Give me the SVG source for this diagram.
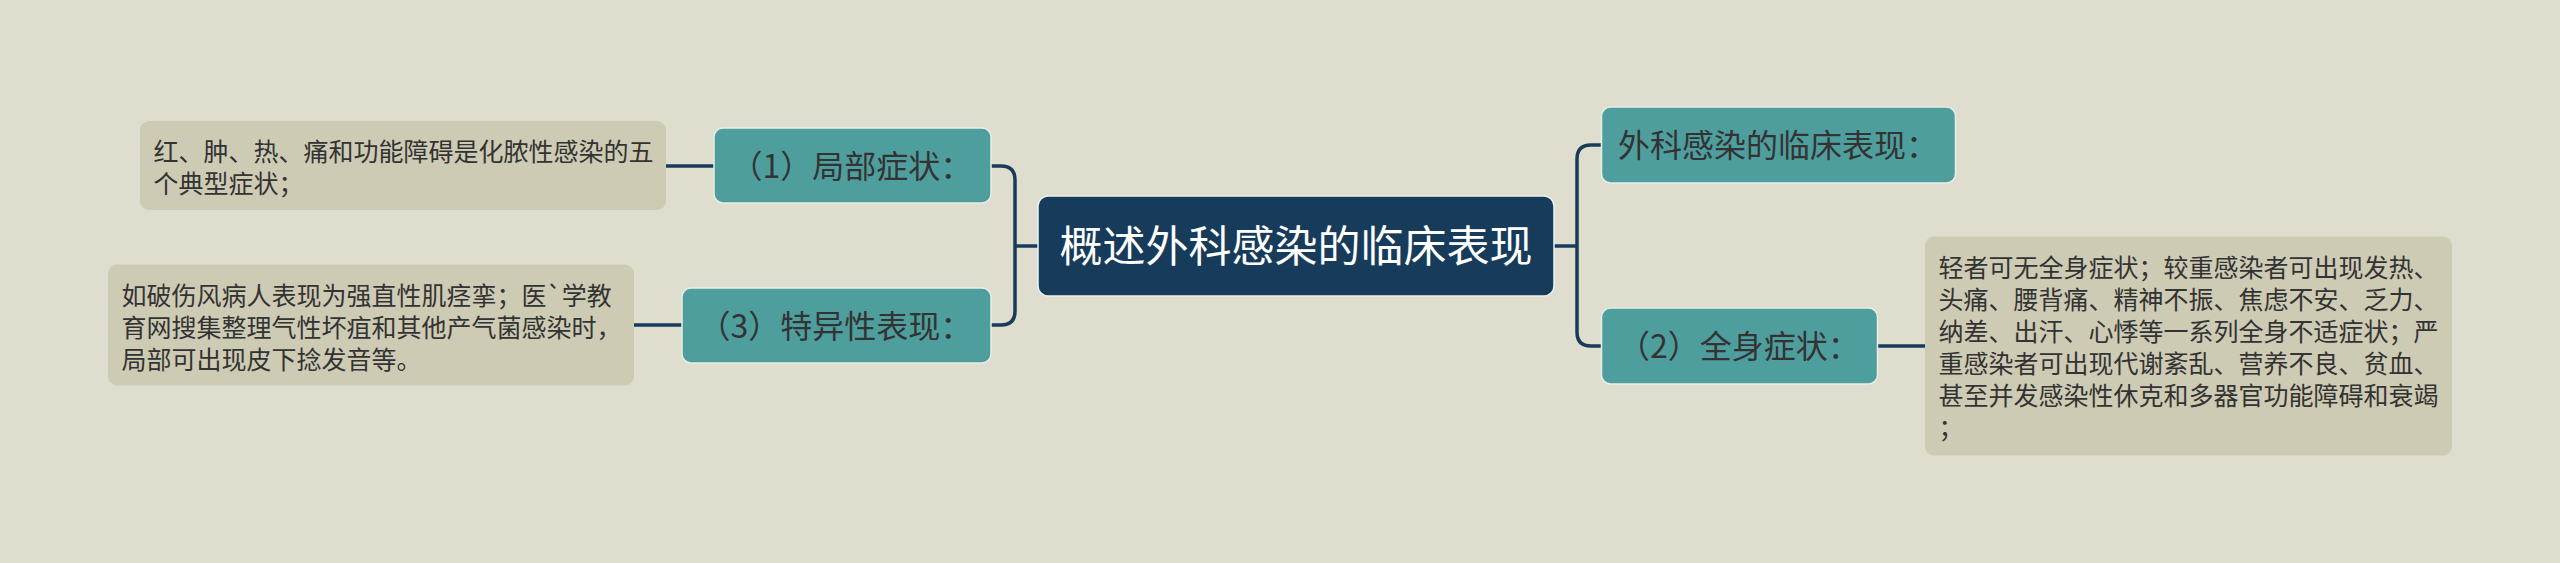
<svg xmlns="http://www.w3.org/2000/svg" width="2560" height="563" viewBox="0 0 2560 563">
<style>
.bg{fill:#dfddce}
.root{fill:#173c5b;stroke:#eef2ec;stroke-width:1.5}
.sub{fill:#4f9e9e;stroke:#e6eee8;stroke-width:1.5}
.leaf{fill:#cecbb4}
.t{font-family:"Noto Sans CJK SC","Noto Sans",sans-serif}
.rt{fill:#ffffff;font-size:43px}
.st{fill:#333333;font-size:32px}
.lt{fill:#333333;font-size:25px}
.c{fill:none;stroke:#173c5b;stroke-width:3.5}
</style>
<rect class="bg" x="0" y="0" width="2560" height="563"/>
<g id="connectors">
<path class="c" d="M1038,246 H1015"/>
<path class="c" d="M991,166 H1001 Q1015,166 1015,180 V311 Q1015,325 1001,325 H991"/>
<path class="c" d="M1554,246 H1577"/>
<path class="c" d="M1601,145 H1591 Q1577,145 1577,159 V332 Q1577,346 1591,346 H1601"/>
<path class="c" d="M666,166 H714"/>
<path class="c" d="M634,325 H682"/>
<path class="c" d="M1877,346 H1925"/>
</g>
<g id="root">
<rect class="root" x="1038" y="196" width="516" height="100" rx="10"/>
<text class="t rt" x="1296" y="262" text-anchor="middle">概述外科感染的临床表现</text>
</g>
<g id="n1">
<rect class="sub" x="714" y="128" width="277" height="75" rx="9"/>
<text class="t st" x="730.5" y="177.5">（1）局部症状：</text>
</g>
<g id="n3">
<rect class="sub" x="682" y="288" width="309" height="75" rx="9"/>
<text class="t st" x="698.5" y="337.5">（3）特异性表现：</text>
</g>
<g id="n0">
<rect class="sub" x="1601.5" y="107" width="354" height="76" rx="9"/>
<text class="t st" x="1618" y="157">外科感染的临床表现：</text>
</g>
<g id="n2">
<rect class="sub" x="1601.5" y="308" width="276" height="76" rx="9"/>
<text class="t st" x="1618" y="358">（2）全身症状：</text>
</g>
<g id="leaf1">
<rect class="leaf" x="140" y="121" width="526" height="89" rx="9"/>
<text class="t lt" x="153.5" y="161">红、肿、热、痛和功能障碍是化脓性感染的五</text>
<text class="t lt" x="153.5" y="193">个典型症状；</text>
</g>
<g id="leaf3">
<rect class="leaf" x="108" y="264.5" width="526" height="121" rx="9"/>
<text class="t lt" x="121.5" y="304.5">如破伤风病人表现为强直性肌痉挛；医`学教</text>
<text class="t lt" x="121.5" y="336.5">育网搜集整理气性坏疽和其他产气菌感染时，</text>
<text class="t lt" x="121.5" y="368.5">局部可出现皮下捻发音等。</text>
</g>
<g id="leaf2">
<rect class="leaf" x="1925" y="236.5" width="527" height="219" rx="9"/>
<text class="t lt" x="1938.5" y="276.5">轻者可无全身症状；较重感染者可出现发热、</text>
<text class="t lt" x="1938.5" y="308.5">头痛、腰背痛、精神不振、焦虑不安、乏力、</text>
<text class="t lt" x="1938.5" y="340.5">纳差、出汗、心悸等一系列全身不适症状；严</text>
<text class="t lt" x="1938.5" y="372.5">重感染者可出现代谢紊乱、营养不良、贫血、</text>
<text class="t lt" x="1938.5" y="404.5">甚至并发感染性休克和多器官功能障碍和衰竭</text>
<text class="t lt" x="1938.5" y="436.5">；</text>
</g>
</svg>
